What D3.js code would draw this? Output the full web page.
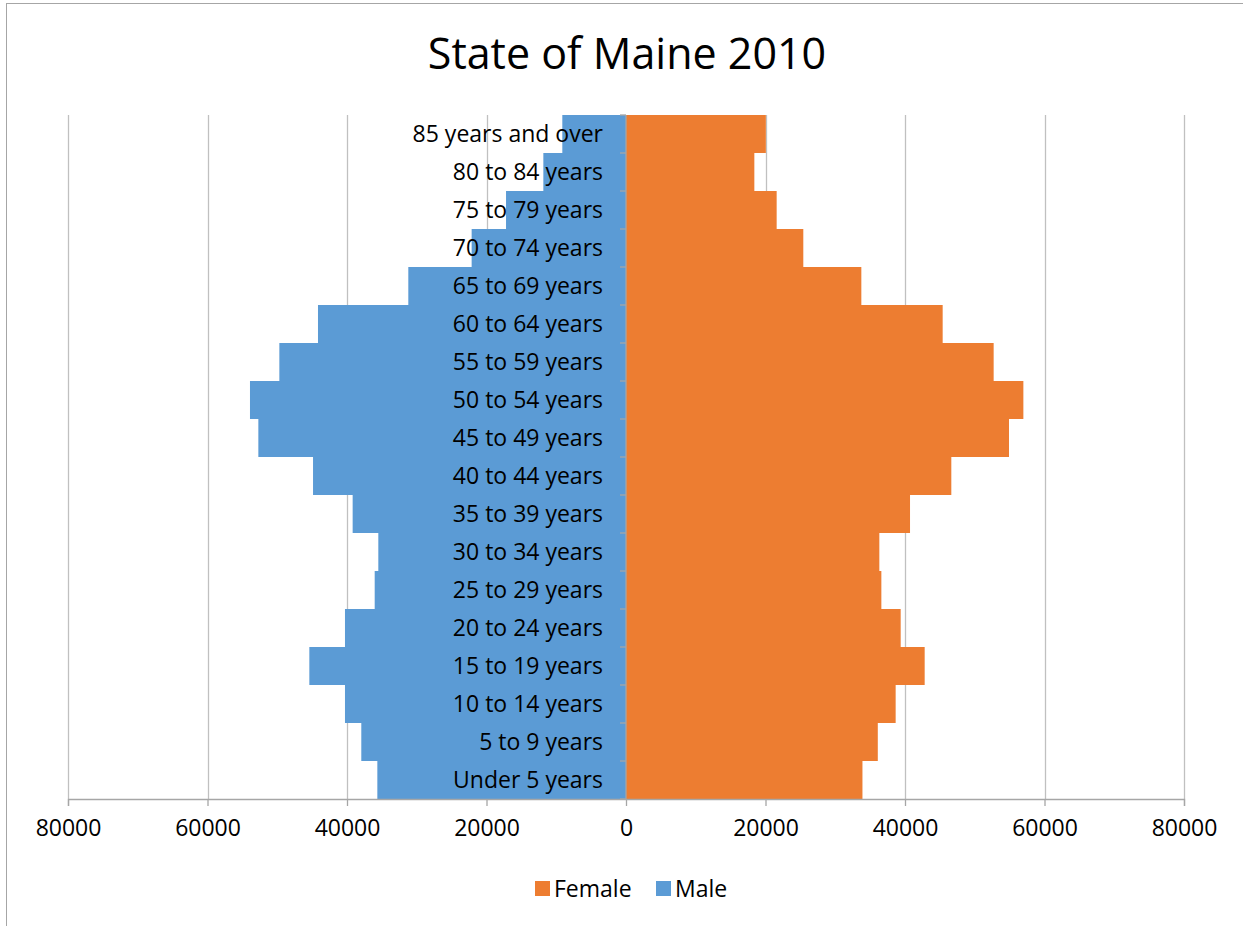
<!DOCTYPE html>
<html>
<head>
<meta charset="utf-8">
<script src="https://cdn.jsdelivr.net/npm/d3@7"></script>
<style>
  body { margin: 0; background: #fff; }
  svg text { font-family: "Liberation Sans Narrow", "Open Sans", sans-serif; fill: #000; }
</style>
</head>
<body>
<div id="chart"></div>
<script>
// age groups, bottom to top
const ageGroups = [
  'Under 5 years', '5 to 9 years', '10 to 14 years', '15 to 19 years',
  '20 to 24 years', '25 to 29 years', '30 to 34 years', '35 to 39 years',
  '40 to 44 years', '45 to 49 years', '50 to 54 years', '55 to 59 years',
  '60 to 64 years', '65 to 69 years', '70 to 74 years', '75 to 79 years',
  '80 to 84 years', '85 years and over'
];
const female = [33900, 36100, 38660, 42820, 39380, 36610, 36320, 40720, 46640,
  54910, 56970, 52710, 45400, 33740, 25420, 21600, 18400, 20050];
const male = [35650, 37950, 40290, 45400, 40290, 36030, 35510, 39190, 44870,
  52710, 53910, 49700, 44160, 31210, 22130, 17200, 11850, 9130];
const xTicks = [-80000, -60000, -40000, -20000, 0, 20000, 40000, 60000, 80000];
const title = 'State of Maine 2010';

const W = 1243, H = 926;
const m = { top: 115, right: 59, bottom: 127, left: 68 };
const w = W - m.left - m.right;
const h = H - m.top - m.bottom;

const svg = d3.select('#chart').append('svg')
  .attr('width', W).attr('height', H);

// chart border (right and bottom edges fall outside the picture)
svg.append('rect')
  .attr('x', 6.5).attr('y', 3.5)
  .attr('width', 1250).attr('height', 940)
  .attr('fill', 'none').attr('stroke', '#a6a6a6');

svg.append('text')
  .attr('x', 627).attr('y', 69)
  .attr('text-anchor', 'middle')
  .attr('font-size', '43px')
  .text(title);

const g = svg.append('g').attr('transform', `translate(${m.left},${m.top})`);

const x = d3.scaleLinear().domain([-80000, 80000]).range([0, w]);
const y = d3.scaleBand().domain(ageGroups.slice().reverse()).range([0, h]).padding(0);

// grid
g.selectAll('.grid').data(xTicks).join('line')
  .attr('x1', d => Math.round(x(d)) + 0.5).attr('x2', d => Math.round(x(d)) + 0.5)
  .attr('y1', 0).attr('y2', h)
  .attr('stroke', '#c0c0c0').attr('stroke-width', 1.3);

// bars
g.selectAll('.male').data(ageGroups).join('rect')
  .attr('x', (d, i) => x(-male[i]))
  .attr('y', d => y(d))
  .attr('width', (d, i) => x(0) - x(-male[i]))
  .attr('height', y.bandwidth())
  .attr('fill', '#5b9bd5');

g.selectAll('.female').data(ageGroups).join('rect')
  .attr('x', x(0))
  .attr('y', d => y(d))
  .attr('width', (d, i) => x(female[i]) - x(0))
  .attr('height', y.bandwidth())
  .attr('fill', '#ed7d31');

// x axis
const xAxis = g.append('g')
  .attr('transform', `translate(0,${h})`)
  .call(d3.axisBottom(x).tickValues(xTicks).tickSize(7).tickPadding(14)
    .tickFormat(d => Math.abs(d)));
xAxis.select('.domain').attr('stroke', '#a6a6a6').attr('stroke-width', 1.3);
xAxis.selectAll('.tick line').attr('stroke', '#a6a6a6').attr('stroke-width', 1.3);
xAxis.selectAll('.tick text').attr('font-size', '23px')
  .attr('font-family', '"Liberation Sans Narrow", "Open Sans", sans-serif').attr('fill', '#000');

// category axis at zero
const cat = g.append('g');
cat.append('line')
  .attr('x1', x(0)).attr('x2', x(0)).attr('y1', 0).attr('y2', h)
  .attr('stroke', '#a6a6a6').attr('stroke-width', 1.3);
const bounds = ageGroups.map(d => y(d)).concat([h]);
cat.selectAll('.ctick').data(bounds).join('line')
  .attr('x1', x(0) - 6).attr('x2', x(0))
  .attr('y1', d => d).attr('y2', d => d)
  .attr('stroke', '#a6a6a6').attr('stroke-width', 1.3);
cat.selectAll('.clabel').data(ageGroups).join('text')
  .attr('x', x(0) - 23)
  .attr('y', d => y(d) + y.bandwidth() / 2)
  .attr('dy', '0.36em')
  .attr('text-anchor', 'end')
  .attr('font-size', '23px')
  .text(d => d);

// legend
const legend = svg.append('g').attr('transform', 'translate(535,881)');
const items = [{ name: 'Female', color: '#ed7d31', dx: 0 }, { name: 'Male', color: '#5b9bd5', dx: 121 }];
items.forEach(it => {
  legend.append('rect').attr('x', it.dx).attr('y', 0).attr('width', 15).attr('height', 15)
    .attr('fill', it.color);
  legend.append('text').attr('x', it.dx + 19).attr('y', 7.5).attr('dy', '0.36em')
    .attr('font-size', '23px').text(it.name);
});
</script>
</body>
</html>
